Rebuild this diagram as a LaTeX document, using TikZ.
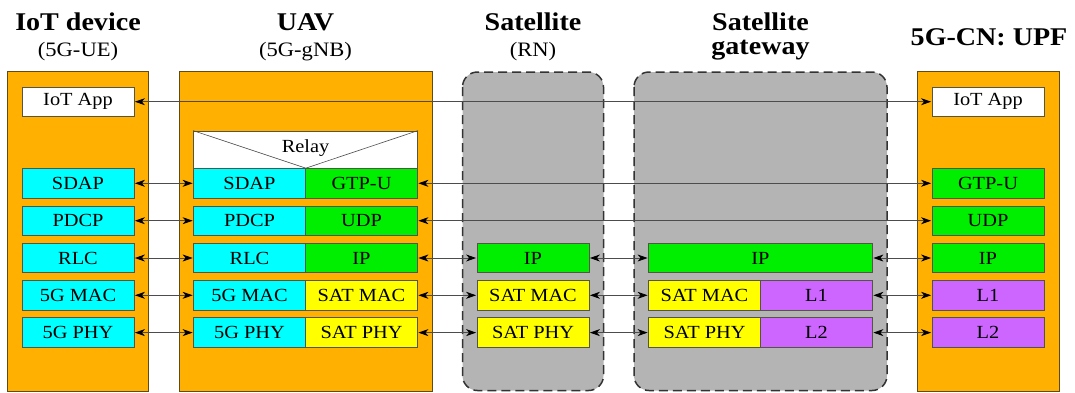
\documentclass[tikz,border=0pt]{standalone}
\usepackage{fontspec}
\setmainfont{Liberation Serif}
\usetikzlibrary{arrows.meta}
\definecolor{orangebg}{RGB}{255,176,0}
\definecolor{edgeor}{RGB}{95,75,25}
\definecolor{laycyan}{RGB}{0,255,255}
\definecolor{laygreen}{RGB}{0,238,0}
\definecolor{layyellow}{RGB}{255,255,0}
\definecolor{laypurple}{RGB}{204,102,255}
\definecolor{graybg}{RGB}{180,180,180}
\definecolor{layedge}{RGB}{85,85,70}
\newcommand{\wx}[1]{\scalebox{1.1}[1]{#1}}
\begin{document}
\begin{tikzpicture}[x=1pt,y=-1pt,
  devbox/.style={draw=edgeor,line width=1pt,fill=orangebg},
  relaybox/.style={draw=black!80,line width=1.5pt,dash pattern=on 9pt off 5pt,fill=graybg,rounded corners=15pt},
  layer/.style={draw=layedge,line width=0.8pt,minimum width=112pt,minimum height=29.5pt,inner sep=0pt,
    font=\fontsize{18.5}{20}\selectfont},
  cy/.style={layer,fill=laycyan},
  gr/.style={layer,fill=laygreen},
  ye/.style={layer,fill=layyellow},
  pu/.style={layer,fill=laypurple},
  wh/.style={layer,fill=white,minimum height=28.5pt},
  title/.style={anchor=base,font=\fontsize{25.5}{28}\selectfont\bfseries,inner sep=0pt},
  sub/.style={anchor=base,font=\fontsize{20.5}{24}\selectfont,inner sep=0pt},
  conn/.style={draw=black!70,line width=0.8pt,{Stealth[length=10pt,width=7pt,inset=3pt,black]}-{Stealth[length=10pt,width=7pt,inset=3pt,black]},shorten <=0.5pt,shorten >=0.5pt},
]
\useasboundingbox (0,0) rectangle (1075,392);

% outer boxes
\path[devbox] (7.5,71) rectangle (148.5,391);
\path[devbox] (179,71) rectangle (432,391);
\path[relaybox] (462.5,72) rectangle (603.5,390.5);
\path[relaybox] (634,72) rectangle (887,390.5);
\path[devbox] (917,71) rectangle (1059,391);

% titles
\node[title] (tIoT) at (78,30) {\wx{IoT device}};
\node[sub] (sIoT) at (78,56) {\wx{(5G-UE)}};
\node[title] (tUAV) at (305.5,30) {\wx{UAV}};
\node[sub] (sUAV) at (305.5,56) {\wx{(5G-gNB)}};
\node[title] (tSat) at (533,30) {\wx{Satellite}};
\node[sub] (sSat) at (533,56) {\wx{(RN)}};
\node[title] (tGw1) at (760.5,30) {\wx{Satellite}};
\node[title] (tGw2) at (760.5,54.5) {\wx{gateway}};
\node[title] (tUPF) at (989,45) {\wx{5G-CN: UPF}};

% IoT device
\node[wh] (lApp) at (78,101.7) {\wx{IoT App}};
\node[cy] (lSDAP) at (78,183.3) {\wx{SDAP}};
\node[cy] (lPDCP) at (78,220.7) {\wx{PDCP}};
\node[cy] (lRLC) at (78,258) {\wx{RLC}};
\node[cy] (lMAC) at (78,295.3) {\wx{5G MAC}};
\node[cy] (lPHY) at (78,332.6) {\wx{5G PHY}};

% UAV
\node[draw=layedge,line width=0.8pt,fill=white,minimum width=224pt,minimum height=37.3pt,inner sep=0pt] (relay) at (305.5,149.65) {};
\node[cy] (uSDAP) at (249.5,183.3) {\wx{SDAP}};
\node[cy] (uPDCP) at (249.5,220.7) {\wx{PDCP}};
\node[cy] (uRLC) at (249.5,258) {\wx{RLC}};
\node[cy] (uMAC) at (249.5,295.3) {\wx{5G MAC}};
\node[cy] (uPHY) at (249.5,332.6) {\wx{5G PHY}};
\node[gr] (uGTP) at (361.5,183.3) {\wx{GTP-U}};
\node[gr] (uUDP) at (361.5,220.7) {\wx{UDP}};
\node[gr] (uIP) at (361.5,258) {\wx{IP}};
\node[ye] (uSMAC) at (361.5,295.3) {\wx{SAT MAC}};
\node[ye] (uSPHY) at (361.5,332.6) {\wx{SAT PHY}};
\draw[draw=black!70,line width=0.6pt] (relay.north west) -- (uSDAP.north east) -- (relay.north east);
\node[font=\fontsize{18.5}{20}\selectfont,inner sep=0pt] (relayt) at (305.5,148) {\wx{Relay}};

% Satellite (RN)
\node[gr] (sIP) at (533,258) {\wx{IP}};
\node[ye] (sMAC) at (533,295.3) {\wx{SAT MAC}};
\node[ye] (sPHY) at (533,332.6) {\wx{SAT PHY}};

% Satellite gateway
\node[gr,minimum width=224pt] (gIP) at (760.5,258) {\wx{IP}};
\node[ye] (gMAC) at (704.5,295.3) {\wx{SAT MAC}};
\node[ye] (gPHY) at (704.5,332.6) {\wx{SAT PHY}};
\node[pu] (gL1) at (816.5,295.3) {\wx{L1}};
\node[pu] (gL2) at (816.5,332.6) {\wx{L2}};

% UPF
\node[wh] (cApp) at (988,101.7) {\wx{IoT App}};
\node[gr] (cGTP) at (988,183.3) {\wx{GTP-U}};
\node[gr] (cUDP) at (988,220.7) {\wx{UDP}};
\node[gr] (cIP) at (988,258) {\wx{IP}};
\node[pu] (cL1) at (988,295.3) {\wx{L1}};
\node[pu] (cL2) at (988,332.6) {\wx{L2}};

% connectors
\draw[conn] (lApp.east) -- (cApp.west);
\draw[conn] (lSDAP.east) -- (uSDAP.west);
\draw[conn] (lPDCP.east) -- (uPDCP.west);
\draw[conn] (lRLC.east) -- (uRLC.west);
\draw[conn] (lMAC.east) -- (uMAC.west);
\draw[conn] (lPHY.east) -- (uPHY.west);
\draw[conn] (uGTP.east) -- (cGTP.west);
\draw[conn] (uUDP.east) -- (cUDP.west);
\draw[conn] (uIP.east) -- (sIP.west);
\draw[conn] (uSMAC.east) -- (sMAC.west);
\draw[conn] (uSPHY.east) -- (sPHY.west);
\draw[conn] (sIP.east) -- (gIP.west);
\draw[conn] (sMAC.east) -- (gMAC.west);
\draw[conn] (sPHY.east) -- (gPHY.west);
\draw[conn] (gIP.east) -- (cIP.west);
\draw[conn] (gL1.east) -- (cL1.west);
\draw[conn] (gL2.east) -- (cL2.west);
\end{tikzpicture}
\end{document}
